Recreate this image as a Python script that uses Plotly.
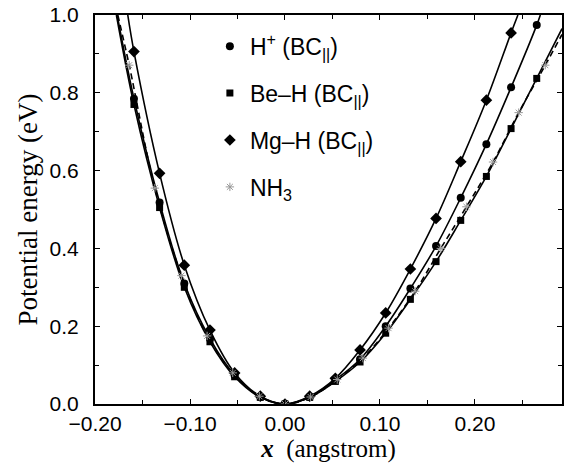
import plotly.graph_objects as go

# ---- data ----
x_grid = [-0.159, -0.132, -0.106, -0.079, -0.053, -0.026, 0.0, 0.026, 0.053,
          0.079, 0.106, 0.132, 0.159, 0.185, 0.212, 0.238, 0.265]
h_y = [0.785, 0.518, 0.310, 0.168, 0.074, 0.018, 0.0, 0.018, 0.062,
       0.115, 0.200, 0.297, 0.406, 0.530, 0.668, 0.814, 0.974]
be_y = [0.770, 0.505, 0.300, 0.160, 0.070, 0.017, 0.0, 0.017, 0.058,
        0.108, 0.182, 0.269, 0.366, 0.472, 0.585, 0.708, 0.837]
mg_x = [-0.159, -0.132, -0.106, -0.079, -0.053, -0.026, 0.0, 0.026, 0.053,
        0.079, 0.106, 0.132, 0.159, 0.185, 0.212, 0.238]
mg_y = [0.906, 0.593, 0.357, 0.190, 0.080, 0.020, 0.0, 0.020, 0.066,
        0.139, 0.234, 0.347, 0.477, 0.623, 0.781, 0.954]
nh3_x = [-0.164, -0.137, -0.109, -0.082, -0.055, -0.027, 0.0, 0.027, 0.055,
         0.082, 0.109, 0.137, 0.164, 0.191, 0.219, 0.246, 0.274]
nh3_y = [0.871, 0.555, 0.330, 0.175, 0.080, 0.020, 0.0, 0.018, 0.063,
         0.118, 0.195, 0.290, 0.400, 0.507, 0.622, 0.749, 0.871]

# where each fitted curve leaves the frame
h_ends_x, h_ends_y = [-0.1767, 0.2688], [1.0, 1.0]
be_ends_x, be_ends_y = [-0.1775, 0.2916], [1.0, 0.965]
mg_ends_x, mg_ends_y = [-0.1655, 0.2452], [1.0, 1.0]
nh3_ends_x, nh3_ends_y = [-0.1760, 0.2916], [1.0, 0.950]

names = ['H<sup>+</sup> (BC<sub>||</sub>)', 'Be\u2013H (BC<sub>||</sub>)',
         'Mg\u2013H (BC<sub>||</sub>)', 'NH<sub>3</sub>']

x_ticks = [-0.2, -0.1, 0.0, 0.1, 0.2]
y_ticks = [0.0, 0.2, 0.4, 0.6, 0.8, 1.0]

fig = go.Figure()

series = [
    (x_grid, h_y, h_ends_x, h_ends_y, 'solid', dict(symbol='circle', size=8, color='black')),
    (x_grid, be_y, be_ends_x, be_ends_y, 'solid', dict(symbol='square', size=7, color='black')),
    (mg_x, mg_y, mg_ends_x, mg_ends_y, 'solid', dict(symbol='diamond', size=9, color='black')),
    (nh3_x, nh3_y, nh3_ends_x, nh3_ends_y, '6px,4px',
     dict(symbol='asterisk-open', size=7, color='#999999', line=dict(color='#999999', width=1))),
]

for xs, ys, ex, ey, dash, mk in series:
    lx = [ex[0]] + xs + [ex[1]]
    ly = [ey[0]] + ys + [ey[1]]
    fig.add_trace(go.Scatter(x=lx, y=ly, mode='lines', showlegend=False,
                             line=dict(color='black', width=1.6, dash=dash,
                                       shape='spline', smoothing=1.0),
                             hoverinfo='skip'))

for i, (xs, ys, ex, ey, dash, mk) in enumerate(series):
    fig.add_trace(go.Scatter(x=xs, y=ys, mode='markers', name=names[i],
                             legendgroup='g%d' % i, marker=mk))

axis_common = dict(showline=True, linecolor='black', linewidth=2, mirror='allticks',
                   ticks='inside', ticklen=5, tickwidth=1, tickcolor='black',
                   showgrid=False, zeroline=False, automargin=False,
                   tickfont=dict(family='Liberation Sans', size=21, color='black'))

fig.update_layout(
    width=564, height=464,
    margin=dict(l=95, r=2, t=15, b=60),
    plot_bgcolor='white', paper_bgcolor='white',
    xaxis=dict(range=[-0.2, 0.2916], tickvals=x_ticks, tickformat='.2f',
               minor=dict(dtick=0.05, ticks='inside', ticklen=4, tickcolor='black', tick0=0),
               ticklabelstandoff=0,
               title=dict(text='<b><i>x</i></b>  (angstrom)',
                          font=dict(family='Liberation Serif', size=25, color='black'),
                          standoff=0),
               **axis_common),
    yaxis=dict(range=[0, 1.0], tickvals=y_ticks, tickformat='.1f',
               minor=dict(dtick=0.1, ticks='inside', ticklen=4, tickcolor='black', tick0=0),
               ticklabelstandoff=10,
               title=dict(text='Potential energy (eV)',
                          font=dict(family='Liberation Serif', size=27, color='black'),
                          standoff=4),
               **axis_common),
    legend=dict(x=0.246, y=0.975, xanchor='left', yanchor='top',
                font=dict(family='Liberation Sans', size=23, color='black'),
                bgcolor='rgba(0,0,0,0)', tracegroupgap=14, itemsizing='trace'),
    showlegend=True,
)

fig.write_html('out.html', config={'displayModeBar': False},
               post_script="document.body.style.margin='0';document.body.style.overflow='hidden';")
